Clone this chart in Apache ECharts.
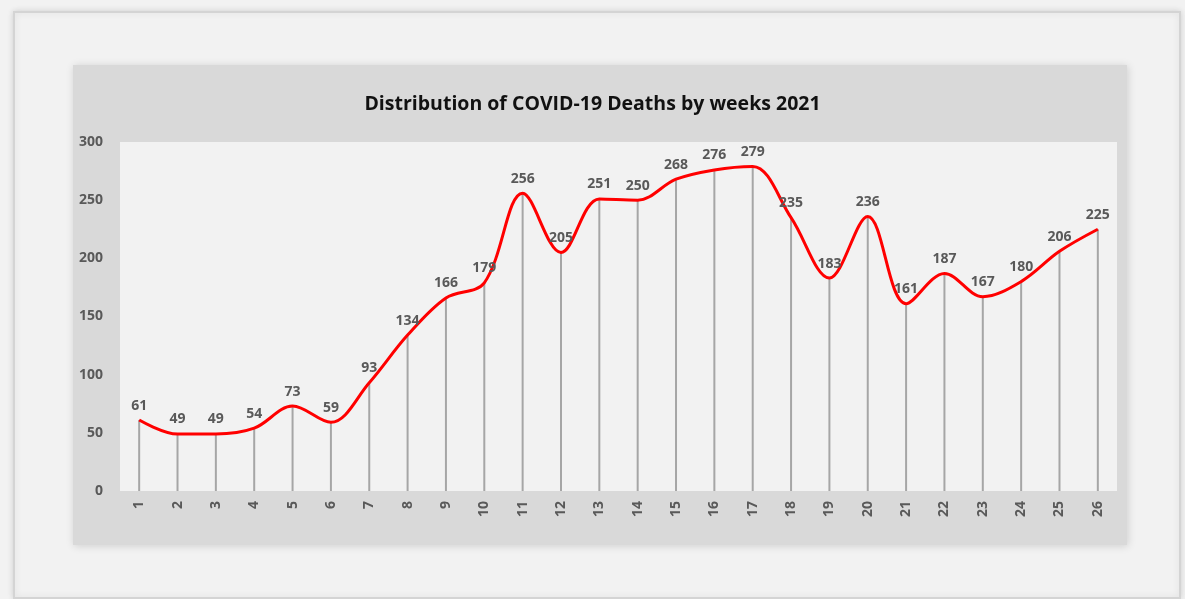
<!DOCTYPE html>
<html>
<head>
<meta charset="utf-8">
<script src="https://cdn.jsdelivr.net/npm/echarts@6/dist/echarts.min.js"></script>
<style>
html,body{margin:0;padding:0;background:#f2f2f2;}
#chart{width:1185px;height:599px;}
</style>
</head>
<body>
<div id="chart"></div>
<script>
const titleText = 'Distribution of COVID-19 Deaths by weeks 2021';
const weeks = ['1','2','3','4','5','6','7','8','9','10','11','12','13','14','15','16','17','18','19','20','21','22','23','24','25','26'];
const deaths = [61,49,49,54,73,59,93,134,166,179,256,205,251,250,268,276,279,235,183,236,161,187,167,180,206,225];
const yTicks = [0,50,100,150,200,250,300];

const chart = echarts.init(document.getElementById('chart'), null, {renderer:'canvas'});
const font = '"Open Sans", "DejaVu Sans", sans-serif';
chart.setOption({
  backgroundColor:'#f2f2f2',
  animation:false,
  graphic:[
    {type:'rect', z:-20, shape:{x:14,y:12,width:1166,height:586},
     style:{fill:'#f2f2f2', stroke:'#d4d4d4', lineWidth:2, shadowBlur:6, shadowColor:'rgba(0,0,0,0.12)'}},
    {type:'rect', z:-10, shape:{x:73,y:65,width:1054,height:480},
     style:{fill:'#d9d9d9', shadowBlur:8, shadowColor:'rgba(0,0,0,0.15)', shadowOffsetX:1, shadowOffsetY:1}}
  ],
  title:{
    text:titleText, left:'center', top:89,
    textStyle:{fontFamily:font, fontWeight:'bold', fontSize:19.5, color:'#111'}
  },
  grid:{left:120, right:68, top:142, bottom:108, show:true, backgroundColor:'#f2f2f2', borderWidth:0},
  xAxis:{
    type:'category', data:weeks, boundaryGap:true,
    axisLine:{show:false}, axisTick:{show:false},
    axisLabel:{rotate:90, margin:10, fontFamily:font, fontWeight:'bold', fontSize:14, color:'#595959'}
  },
  yAxis:{
    type:'value', min:0, max:300, interval:50,
    splitLine:{show:false}, axisLine:{show:false}, axisTick:{show:false},
    axisLabel:{margin:17, fontFamily:font, fontWeight:'bold', fontSize:14, color:'#595959',
      formatter:function(v){return yTicks.indexOf(v)>=0 ? String(v) : '';}}
  },
  series:[
    {type:'bar', data:deaths, barWidth:2, itemStyle:{color:'#a6a6a6'}, silent:true, z:1},
    {type:'line', data:deaths, smooth:0.35, symbol:'circle', symbolSize:1, showSymbol:true, z:3,
     itemStyle:{color:'rgba(255,0,0,0)'},
     lineStyle:{color:'#ff0000', width:3},
     label:{show:true, position:'top', distance:7, fontFamily:font, fontWeight:'bold', fontSize:14, color:'#595959'}}
  ]
});
</script>
</body>
</html>
